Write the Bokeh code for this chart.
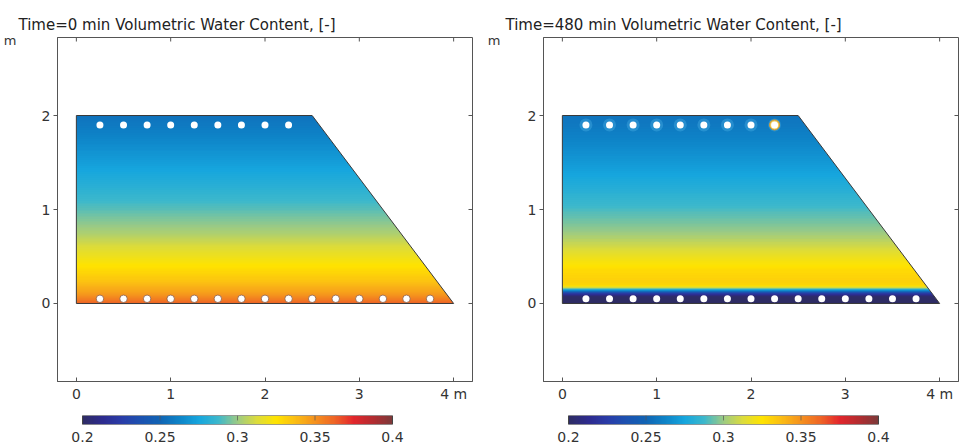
import numpy as np
from bokeh.plotting import figure
from bokeh.models import LinearColorMapper, LinearAxis, FixedTicker, Range1d, Title
from bokeh.layouts import row, column
from bokeh.embed import file_html
from bokeh.resources import INLINE

# ---------------- data ----------------
titles = ["Time=0 min Volumetric Water Content, [-]",
          "Time=480 min Volumetric Water Content, [-]"]
x_ticks = [0, 1, 2, 3, 4]
x_tick_labels = {4: "4 m"}
y_ticks = [0, 1, 2]
y_unit = "m"
cbar_ticks = [0.2, 0.25, 0.3, 0.35, 0.4]

domain_x = [0.0, 4.0, 2.5, 0.0]
domain_y = [0.0, 0.0, 2.0, 2.0]

top_holes_x = [0.25, 0.5, 0.75, 1.0, 1.25, 1.5, 1.75, 2.0, 2.25]
top_holes_y = [1.9, 1.9, 1.9, 1.9, 1.9, 1.9, 1.9, 1.9, 1.9]
bottom_holes_x = [0.25, 0.5, 0.75, 1.0, 1.25, 1.5, 1.75, 2.0, 2.25, 2.5,
                  2.75, 3.0, 3.25, 3.5, 3.75]
bottom_holes_y = [0.05] * 15
ringed_hole_x = [2.25]
ringed_hole_y = [1.9]

# water content profiles (height in m, theta [-])
t0_heights = [0.0, 0.1, 0.25, 0.4, 0.5, 0.75, 1.0, 1.25, 1.5, 1.75, 2.0]
t0_theta = [0.362, 0.347, 0.334, 0.325, 0.319, 0.303, 0.291, 0.281, 0.272, 0.263, 0.255]

t480_heights = [0.0, 0.07, 0.10, 0.125, 0.145, 0.165, 0.19, 0.25, 0.35, 0.5,
                0.75, 1.0, 1.25, 1.5, 1.75, 1.9, 2.0]
t480_theta = [0.200, 0.201, 0.220, 0.252, 0.278, 0.310, 0.330, 0.331, 0.328, 0.318,
              0.300, 0.289, 0.279, 0.270, 0.262, 0.258, 0.256]

# colour table stops
stop_values = [0.200, 0.2125, 0.225, 0.2375, 0.250, 0.2625, 0.275, 0.2875, 0.300,
               0.3125, 0.325, 0.3375, 0.350, 0.3625, 0.375, 0.3875, 0.400]
stop_colors = ["#2e2c64", "#2d2b8e", "#2a3ca8", "#1c52b0", "#1064b4", "#0e84c8",
               "#16a6de", "#3cb8cc", "#9ccb84", "#dcdc3c", "#ffe400", "#fbbd14",
               "#f5921e", "#ef6626", "#e3262c", "#b42c30", "#7c3a3a"]

FONT = "DejaVu Sans"
TXT = "#333333"
AX = "#555555"


def hex2rgb(h):
    return [int(h[i:i + 2], 16) for i in (1, 3, 5)]


rgb = np.array([hex2rgb(c) for c in stop_colors], dtype=float)
vals = np.linspace(stop_values[0], stop_values[-1], 256)
palette = []
for v in vals:
    r = np.interp(v, stop_values, rgb[:, 0])
    g = np.interp(v, stop_values, rgb[:, 1])
    b = np.interp(v, stop_values, rgb[:, 2])
    palette.append("#%02x%02x%02x" % (int(round(r)), int(round(g)), int(round(b))))


def make_mapper():
    return LinearColorMapper(palette=palette, low=0.2, high=0.4)


XR = (-0.2, 4.2)
YR = (-0.83, 2.83)
FW = 415
FH = 344
FT = 37
SX = FW / (XR[1] - XR[0])
SY = FH / (YR[1] - YR[0])
MAIN_H = 405


def make_panel(width, bl, br, title, title_off, unit_standoff, heights, theta, later):
    p = figure(width=width, height=MAIN_H, x_range=Range1d(*XR), y_range=Range1d(*YR),
               min_border_left=bl, min_border_right=br, min_border_top=FT,
               min_border_bottom=MAIN_H - FT - FH, toolbar_location=None,
               output_backend="svg", title=None)
    p.grid.visible = False
    p.outline_line_color = AX
    p.background_fill_color = "white"
    p.border_fill_color = "white"

    p.xaxis.ticker = FixedTicker(ticks=x_ticks)
    p.xaxis.major_label_overrides = x_tick_labels
    p.yaxis.ticker = FixedTicker(ticks=y_ticks)
    for ax in (p.xaxis[0], p.yaxis[0]):
        ax.axis_line_color = AX
        ax.major_tick_line_color = AX
        ax.minor_tick_line_color = None
        ax.major_label_text_font = FONT
        ax.major_label_text_font_size = "14px"
        ax.major_label_text_color = TXT
    p.xaxis.major_tick_in = 4
    p.xaxis.major_tick_out = 0
    p.xaxis.major_label_standoff = 4
    p.yaxis.major_tick_in = 0
    p.yaxis.major_tick_out = 4
    p.yaxis.major_label_standoff = 3

    # unit label of the vertical axis, shown at the top-left like the original
    unit_ax = LinearAxis(ticker=FixedTicker(ticks=[2.8]), major_label_overrides={2.8: y_unit},
                         axis_line_color=None, major_tick_line_color=None,
                         minor_tick_line_color=None, major_label_standoff=unit_standoff,
                         major_label_text_font=FONT, major_label_text_font_size="13px",
                         major_label_text_color=TXT)
    p.add_layout(unit_ax, "left")

    p.add_layout(Title(text=title, align="left", offset=title_off, standoff=8,
                       text_font=FONT, text_font_size="15px", text_font_style="normal",
                       text_color="#222222"), "above")

    # inner ticks on top and right frame edges
    tick_len_y = 4 / SY
    tick_len_x = 4 / SX
    p.segment(x0=x_ticks, y0=[YR[1]] * len(x_ticks), x1=x_ticks,
              y1=[YR[1] - tick_len_y] * len(x_ticks), line_color=AX, line_width=1)
    p.segment(x0=[XR[1]] * len(y_ticks), y0=y_ticks, x1=[XR[1] - tick_len_x] * len(y_ticks),
              y1=y_ticks, line_color=AX, line_width=1)

    mapper = make_mapper()
    ys = np.linspace(0, 2, 500)
    col = np.interp(ys, heights, theta)
    img = np.tile(col[:, None], (1, 2))
    p.image(image=[img], x=0, y=0, dw=4, dh=2, color_mapper=mapper)

    # cut away the part outside of the slanted edge
    p.patch([2.5, 4.0, 4.1, 4.1, 2.5], [2.0, 0.0, -0.02, 2.03, 2.03],
            fill_color="white", line_color=None)
    p.patch(domain_x, domain_y, fill_alpha=0, line_color="#3a3a3a", line_width=1)

    if later:
        p.scatter(top_holes_x, top_holes_y, size=13, fill_color="#5cc0f0",
                  fill_alpha=0.3, line_color=None)
        p.scatter(ringed_hole_x, ringed_hole_y, size=10, fill_color="#f0d060",
                  line_color="#d89a30", line_width=1.0)
        p.scatter(top_holes_x, top_holes_y, size=7, fill_color="white", line_color=None)
        p.scatter(bottom_holes_x, bottom_holes_y, size=7, fill_color="white", line_color=None)
    else:
        p.scatter(top_holes_x, top_holes_y, size=7, fill_color="white", line_color=None)
        p.scatter(bottom_holes_x, bottom_holes_y, size=7.5, fill_color="white",
                  line_color="#8a5a40", line_width=0.8)
    return p


CB_LO = 0.2 - 25 / 1550.0
CB_HI = 0.4 + 80 / 1550.0


def make_cbar(width, bl, br):
    h = 444 - MAIN_H
    cb = figure(width=width, height=h, x_range=Range1d(CB_LO, CB_HI), y_range=Range1d(0, 1),
                min_border_left=bl, min_border_right=br, min_border_top=10,
                min_border_bottom=h - 10 - 11, toolbar_location=None, output_backend="svg",
                y_axis_type=None, title=None)
    cb.grid.visible = False
    cb.outline_line_color = None
    ax = cb.xaxis[0]
    ax.ticker = FixedTicker(ticks=cbar_ticks)
    ax.axis_line_color = None
    ax.major_tick_line_color = None
    ax.minor_tick_line_color = None
    ax.major_label_standoff = 1
    ax.major_label_text_font = FONT
    ax.major_label_text_font_size = "14px"
    ax.major_label_text_color = TXT
    grad = np.tile(np.linspace(0.2, 0.4, 256)[None, :], (2, 1))
    cb.image(image=[grad], x=0.2, y=0, dw=0.2, dh=1, color_mapper=make_mapper())
    cb.segment(x0=cbar_ticks[1:4], y0=[0.45] * 3, x1=cbar_ticks[1:4], y1=[1.0] * 3,
               line_color="#555555", line_alpha=0.7, line_width=1)
    cb.quad(left=[0.2], right=[0.4], bottom=[0.0], top=[1.0], fill_color=None,
            line_color="#444444", line_width=1)
    return cb


p1 = make_panel(480, 57, 8, titles[0], -39, 16, t0_heights, t0_theta, False)
p2 = make_panel(479, 63, 1, titles[1], -38, 18, t480_heights, t480_theta, True)
c1 = make_cbar(480, 57, 8)
c2 = make_cbar(479, 63, 1)

layout = row(column(p1, c1, spacing=0), column(p2, c2, spacing=0), spacing=0)

open("out.html", "w").write(file_html(layout, INLINE))
